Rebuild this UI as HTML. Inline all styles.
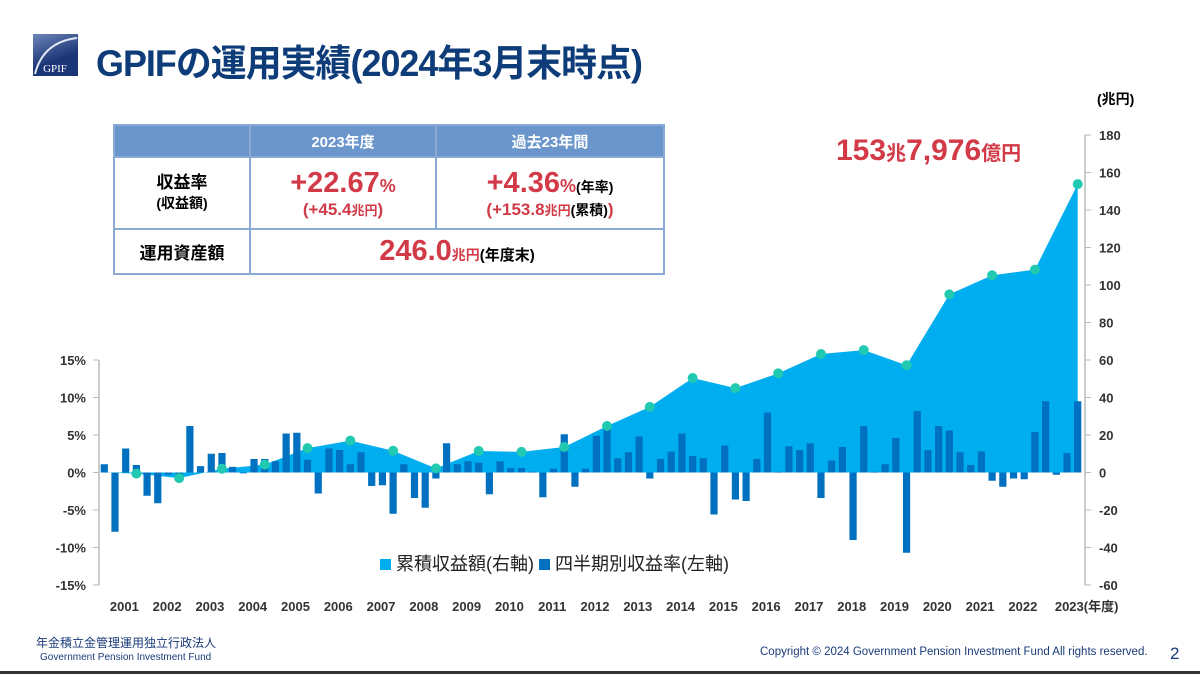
<!DOCTYPE html>
<html><head><meta charset="utf-8"><style>
body{margin:0;width:1200px;height:674px;background:#fff;overflow:hidden;font-family:"Liberation Sans","Noto Sans CJK JP",sans-serif;position:relative}
.abs{position:absolute}
table{border-collapse:collapse}
td{border:2px solid #8aa9d4;text-align:center;font-weight:bold;padding:0}
.red{color:#d23a48}
</style></head><body>
<div class="abs" style="left:33px;top:34px;width:45px;height:42px;background:linear-gradient(160deg,#6d86b8,#1c3576 60%);">
 <svg width="45" height="42" style="position:absolute;left:0;top:0"><path d="M2 40 Q10 8 44 4" stroke="#dfe8f5" stroke-width="2" fill="none"/><text x="22" y="38" font-family="Liberation Serif" font-size="11" fill="#fff" text-anchor="middle">GPIF</text></svg>
</div>
<div class="abs" style="left:96px;top:33px;font-size:37px;font-weight:bold;color:#0d3c78;letter-spacing:-1px;transform:scaleX(0.97);transform-origin:left top;white-space:nowrap">GPIFの運用実績(2024年3月末時点)</div>

<table class="abs" style="left:113px;top:124px;width:552px;height:149px">
<tr style="height:32px;background:#6a96cc;color:#fff;font-size:15px"><td style="width:134px"></td><td style="width:184px">2023年度</td><td>過去23年間</td></tr>
<tr style="height:72px"><td style="font-size:17px;line-height:20px">収益率<br><span style="font-size:14px">(収益額)</span></td>
<td class="red"><div style="font-size:29px">+22.67<span style="font-size:18px">%</span></div><div style="font-size:17px">(+45.4<span style="font-size:13px">兆円</span>)</div></td>
<td class="red"><div style="font-size:29px">+4.36<span style="font-size:18px">%</span><span style="font-size:14px;color:#000">(年率)</span></div><div style="font-size:17px">(+153.8<span style="font-size:13px">兆円</span><span style="font-size:14px;color:#000">(累積)</span>)</div></td></tr>
<tr style="height:45px"><td style="font-size:17px">運用資産額</td><td colspan="2" class="red"><span style="font-size:29px">246.0</span><span style="font-size:14px">兆円</span><span style="font-size:15px;color:#000">(年度末)</span></td></tr>
</table>

<div class="abs red" style="left:836px;top:134px;font-size:30px;font-weight:bold">153<span style="font-size:20px">兆</span>7,976<span style="font-size:20px">億円</span></div>
<div class="abs" style="left:1097px;top:89px;font-size:14px;font-weight:bold">(兆円)</div>

<svg id="chart" class="abs" style="left:0;top:0" width="1200" height="674"></svg>

<div class="abs" style="left:380px;top:550px;font-size:18px;color:#222">
<span><span style="display:inline-block;width:11px;height:11px;background:#00aeef"></span> 累積収益額(右軸)</span>
<span><span style="display:inline-block;width:11px;height:11px;background:#0070c0"></span> 四半期別収益率(左軸)</span></div>

<div class="abs" style="left:36px;top:634px;font-size:12px;color:#1a3a7a">年金積立金管理運用独立行政法人</div>
<div class="abs" style="left:40px;top:652px;font-size:10px;color:#1a3a7a">Government Pension Investment Fund</div>
<div class="abs" style="left:760px;top:646px;font-size:11.5px;color:#1a3a7a;white-space:nowrap">Copyright © 2024 Government Pension Investment Fund All rights reserved.</div>
<div class="abs" style="left:1170px;top:644px;font-size:17px;color:#1a3a7a">2</div>
<div class="abs" style="left:0;top:671px;width:1200px;height:3px;background:#333"></div>

<script>
const years=["2001","2002","2003","2004","2005","2006","2007","2008","2009","2010","2011","2012","2013","2014","2015","2016","2017","2018","2019","2020","2021","2022","2023"];
const quarterlyReturns=[1.1,-7.9,3.2,1.0,-3.1,-4.1,-0.3,-1.2,6.2,0.85,2.5,2.6,0.75,-0.1,1.8,1.8,1.5,5.2,5.3,1.7,-2.8,3.2,3.0,1.1,2.7,-1.8,-1.7,-5.5,1.1,-3.4,-4.7,-0.8,3.9,1.1,1.5,1.3,-2.9,1.5,0.6,0.6,0.1,-3.3,0.5,5.1,-1.9,0.5,4.9,6.0,1.9,2.7,4.8,-0.8,1.8,2.8,5.2,2.2,1.9,-5.6,3.6,-3.6,-3.8,1.8,8.0,0.1,3.5,3.0,3.9,-3.4,1.6,3.4,-9.0,6.2,0.1,1.1,4.6,-10.7,8.2,3.0,6.2,5.6,2.7,1.0,2.8,-1.1,-1.9,-0.8,-0.9,5.4,9.5,-0.3,2.6,9.5];
const cumulative=[-0.6,-3.0,2.0,4.2,13.0,17.0,11.6,2.2,11.5,11.0,13.6,24.8,35.0,50.4,45.0,52.9,63.2,65.3,57.2,95.0,105.2,108.2,153.8];
const leftTicks=[15,10,5,0,-5,-10,-15];
const rightTicks=[180,160,140,120,100,80,60,40,20,0,-20,-40,-60];

const NS="http://www.w3.org/2000/svg";
const svg=document.getElementById('chart');
const zeroY=472.5;
const yL=v=>zeroY-v*7.5;
const yR=v=>zeroY-v*1.875;
const x0=104.3, step=(1077.7-104.3)/(quarterlyReturns.length-1);
const xi=i=>x0+i*step;
function mk(tag,attrs){const e=document.createElementNS(NS,tag);for(const k in attrs)e.setAttribute(k,attrs[k]);svg.appendChild(e);return e;}

let a=mk('line',{x1:99,y1:360,x2:99,y2:585,stroke:'#bbb','stroke-width':1.5});


a=mk('line',{x1:1085,y1:135,x2:1085,y2:585,stroke:'#bbb','stroke-width':1.5});


leftTicks.forEach(t=>{
  mk('line',{x1:93,x2:99,y1:yL(t),y2:yL(t),stroke:'#bbb'});
  const tx=mk('text',{x:86,y:yL(t)+5,'text-anchor':'end','font-size':13,'font-weight':'bold',fill:'#333'});
  tx.textContent=t+'%';
  
  
});
rightTicks.forEach(t=>{
  mk('line',{x1:1085,x2:1091,y1:yR(t),y2:yR(t),stroke:'#bbb'});
  const tx=mk('text',{x:1099,y:yR(t)+5,'font-size':13,'font-weight':'bold',fill:'#333'});
  tx.textContent=t;
  
  
});

let pts=[[xi(0),yR(0)]];
cumulative.forEach((v,k)=>pts.push([xi(4*k+3),yR(v)]));
let d='M'+xi(0)+','+zeroY+' '+pts.map(p=>'L'+p[0]+','+p[1]).join(' ')+' L'+xi(quarterlyReturns.length-1)+','+zeroY+'Z';
const area=mk('path',{d:d,fill:'#00aeef'});



quarterlyReturns.forEach((v,i)=>{
  const y1=yL(Math.max(v,0)),y2=yL(Math.min(v,0));
  const b=mk('rect',{x:xi(i)-3.6,y:y1,width:7.2,height:Math.max(y2-y1,0.8),fill:'#0070c0'});
  
  
});

cumulative.forEach((v,k)=>{
  const c=mk('circle',{cx:xi(4*k+3),cy:yR(v),r:5,fill:'#20c9b0'});
  
  
});

years.forEach((y,k)=>{
  const t=mk('text',{x:xi(4*k+1.5)+4,y:611,'text-anchor':'middle','font-size':13,'font-weight':'bold',fill:'#333'});
  t.textContent=y+(k===years.length-1?'(年度)':'');
  if(k===years.length-1){t.setAttribute('x',xi(4*k+1.5)+25);}
  
  
});
</script>
</body></html>
